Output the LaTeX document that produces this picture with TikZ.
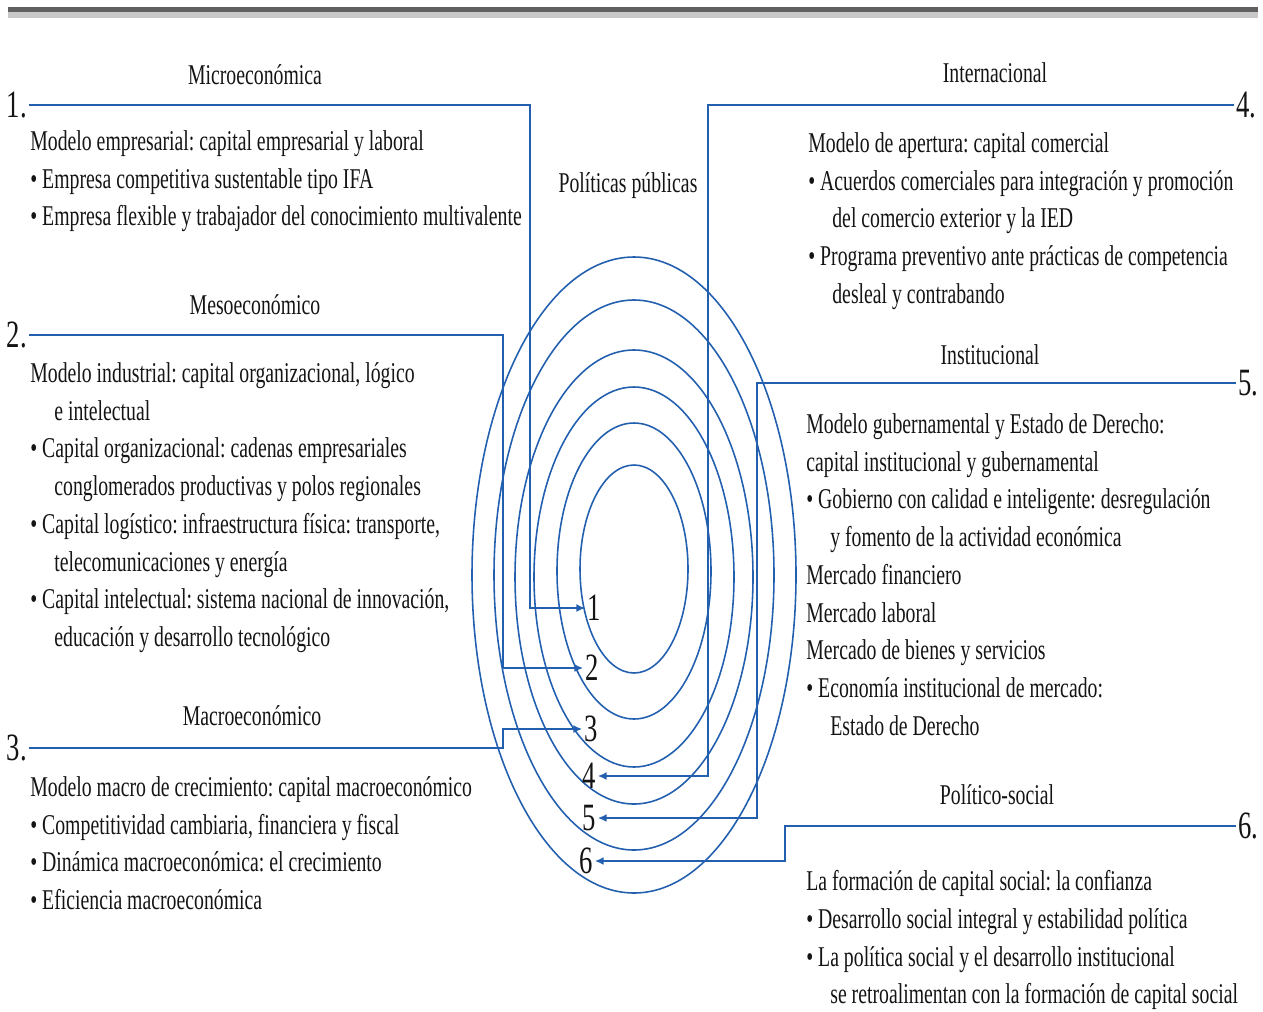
\documentclass[tikz,border=0pt]{standalone}
\usepackage{fontspec}
\setmainfont[FakeStretch=0.69]{Liberation Serif}
\usetikzlibrary{arrows.meta}
\frenchspacing

\definecolor{linkblue}{RGB}{35,95,175}
\definecolor{bardark}{RGB}{96,96,96}
\definecolor{barlight}{RGB}{200,200,200}
\definecolor{inkgray}{RGB}{20,20,20}
\newcommand{\bodysize}{\fontsize{16.3}{21.5}\selectfont}
\newcommand{\numsize}{\fontsize{22}{24}\selectfont}
\newcommand{\contind}{\hspace*{0.48cm}}

\tikzset{
  hdr/.style={inner sep=0pt, font=\bodysize, text=inkgray},
  blk/.style={align=left, anchor=north west, inner sep=0pt, font=\bodysize, text=inkgray},
  num/.style={inner sep=1pt, font=\numsize, text=inkgray},
  link/.style={draw=linkblue, line width=1.3pt},
  ring/.style={draw=linkblue, line width=0.9pt},
}

\begin{document}
\begin{tikzpicture}[x=0.02cm, y=-0.02cm, >={Latex[length=5pt,width=4.5pt]}]
    \useasboundingbox (0,0) rectangle (1263,1011);
    \fill [bardark] (8,7) rectangle (1258,12);
    \fill [barlight] (8,12) rectangle (1258,18);
    % rings
    \foreach \rx/\ry/\cy in {54/104/569, 77/148/571, 100/190/577, 119/227/577, 140/275/575, 162/318/575}
      \draw [ring] (634,\cy) ellipse [x radius=\rx, y radius=\ry];
    \node [hdr] (pp) at (628,186) {Políticas públicas};
    % left side
    \node [hdr] (hmicro) at (255,75) {Microeconómica};
    \node [num, anchor=east] (n1) at (29,105) {1.};
    \node [blk] (b1) at (30,130) {Modelo empresarial: capital empresarial y laboral\\
      • Empresa competitiva sustentable tipo IFA\\
      • Empresa flexible y trabajador del conocimiento multivalente};
    \node [hdr] (hmeso) at (255,305) {Mesoeconómico};
    \node [num, anchor=east] (n2) at (29,335) {2.};
    \node [blk] (b2) at (30,362) {Modelo industrial: capital organizacional, lógico\\
      \contind e intelectual\\
      • Capital organizacional: cadenas empresariales\\
      \contind conglomerados productivas y polos regionales\\
      • Capital logístico: infraestructura física: transporte,\\
      \contind telecomunicaciones y energía\\
      • Capital intelectual: sistema nacional de innovación,\\
      \contind educación y desarrollo tecnológico};
    \node [hdr] (hmacro) at (252,716) {Macroeconómico};
    \node [num, anchor=east] (n3) at (29,748) {3.};
    \node [blk] (b3) at (30,776) {Modelo macro de crecimiento: capital macroeconómico\\
      • Competitividad cambiaria, financiera y fiscal\\
      • Dinámica macroeconómica: el crecimiento\\
      • Eficiencia macroeconómica};
    % right side
    \node [hdr] (hinter) at (995,73) {Internacional};
    \node [num, anchor=west] (n4) at (1234,105) {4.};
    \node [blk] (b4) at (808,132) {Modelo de apertura: capital comercial\\
      • Acuerdos comerciales para integración y promoción\\
      \contind del comercio exterior y la IED\\
      • Programa preventivo ante prácticas de competencia\\
      \contind desleal y contrabando};
    \node [hdr] (hinst) at (990,355) {Institucional};
    \node [num, anchor=west] (n5) at (1236,383) {5.};
    \node [blk] (b5) at (806,413) {Modelo gubernamental y Estado de Derecho:\\
      capital institucional y gubernamental\\
      • Gobierno con calidad e inteligente: desregulación\\
      \contind y fomento de la actividad económica\\
      Mercado financiero\\
      Mercado laboral\\
      Mercado de bienes y servicios\\
      • Economía institucional de mercado:\\
      \contind Estado de Derecho};
    \node [hdr] (hpol) at (997,795) {Político-social};
    \node [num, anchor=west] (n6) at (1236,826) {6.};
    \node [blk] (b6) at (806,870) {La formación de capital social: la confianza\\
      • Desarrollo social integral y estabilidad política\\
      • La política social y el desarrollo institucional\\
      \contind se retroalimentan con la formación de capital social};
    % ring labels
    \node [num] (t1) at (594,608) {1};
    \node [num] (t2) at (592,668) {2};
    \node [num] (t3) at (591,729) {3};
    \node [num] (t4) at (589,776) {4};
    \node [num] (t5) at (589,818) {5};
    \node [num] (t6) at (586,861) {6};
    % links
    \coordinate (k1) at (530,105);
    \coordinate (k2) at (503,335);
    \coordinate (k3) at (503,748);
    \coordinate (k4) at (708,105);
    \coordinate (k5) at (757,383);
    \coordinate (k6) at (785,826);
    \draw [link,->] (n1.east) -- (k1) |- (t1.west);
    \draw [link,->] (n2.east) -- (k2) |- (t2.west);
    \draw [link,->] (n3.east) -- (k3) |- (t3.west);
    \draw [link,->] (n4.west) -- (k4) |- (t4.east);
    \draw [link,->] (n5.west) -- (k5) |- (t5.east);
    \draw [link,->] (n6.west) -- (k6) |- (t6.east);
\end{tikzpicture}
\end{document}
